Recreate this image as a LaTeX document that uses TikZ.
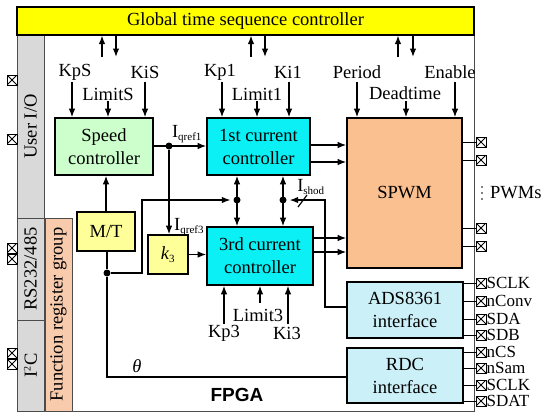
\documentclass[tikz,border=0pt]{standalone}
\usepackage{fontspec}
\setmainfont{Liberation Serif}
\newfontfamily\fpgafont{Liberation Sans}
\usetikzlibrary{arrows.meta}
\definecolor{gyellow}{RGB}{255,255,0}
\definecolor{colgray}{RGB}{217,217,217}
\definecolor{freg}{RGB}{248,203,173}
\definecolor{spgreen}{RGB}{204,255,204}
\definecolor{curcyan}{RGB}{10,240,245}
\definecolor{spwmor}{RGB}{250,192,143}
\definecolor{ifcyan}{RGB}{204,240,248}
\definecolor{lyellow}{RGB}{255,255,153}
\newcommand\myfs{\fontsize{18.5}{23}\selectfont}
\newcommand\pinfs{\fontsize{17}{17}\selectfont}
\newcommand\mysub[1]{\textsubscript{\fontsize{11}{11}\selectfont #1}}
\begin{document}
\begin{tikzpicture}[x=1pt,y=-1pt,
  every node/.style={font=\myfs},
  box/.style={draw, line width=1.6pt, align=center, inner sep=0pt},
  lab/.style={inner sep=0pt},
  pin/.style={inner sep=0pt, anchor=west, font=\pinfs},
  arr/.style={line width=1.2pt, -{Latex[length=8.5pt,width=6.5pt]}},
  darr/.style={line width=1.2pt, {Latex[length=8.5pt,width=6.5pt]}-{Latex[length=8.5pt,width=6.5pt]}},
  ln/.style={line width=1.2pt},
  thin/.style={line width=0.7pt},
  dot/.style={circle, fill=black, inner sep=0pt, minimum size=7pt},
  xb/.style={draw, line width=0.9pt, fill=white, minimum size=10pt, inner sep=0pt,
    path picture={\draw[line width=0.8pt] (path picture bounding box.north west) -- (path picture bounding box.south east)
      (path picture bounding box.north east) -- (path picture bounding box.south west);}}
]
\useasboundingbox (0,0) rectangle (548,413);
% frame
\node[draw=black!70, line width=0.8pt, minimum width=457pt, minimum height=404pt, inner sep=0pt] (frame) at (245.5,209) {};
% left columns
\node[draw=black!70, fill=colgray, line width=0.8pt, minimum width=27pt, minimum height=183pt, inner sep=0pt] (uio) at (30.5,126.5) {};
\node[draw=black!70, fill=colgray, line width=0.8pt, minimum width=27pt, minimum height=102pt, inner sep=0pt] (rs) at (30.5,269) {};
\node[draw=black!70, fill=colgray, line width=0.8pt, minimum width=27pt, minimum height=91pt, inner sep=0pt] (iic) at (30.5,365.5) {};
\node[rotate=90, lab] (uiot) at (uio.center) {User I/O};
\node[rotate=90, lab] (rst) at (rs.center) {RS232/485};
\node[rotate=90, lab] (iict) at (iic.center) {I\textsuperscript{\fontsize{10}{10}\selectfont 2}C};
\node[draw=black!70, fill=freg, line width=0.8pt, minimum width=27pt, minimum height=193pt, inner sep=0pt] (fr) at (58.5,314.5) {};
\node[rotate=90, lab] (frt) at (fr.center) {Function register group};
% global controller
\node[draw, fill=gyellow, line width=1.2pt, minimum width=457pt, minimum height=28pt, inner sep=0pt] (gtsc) at (245.5,21) {Global time sequence controller};
% boxes
\node[box, fill=spgreen, minimum width=98pt, minimum height=57pt] (speed) at (104,146.5) {Speed\\controller};
\node[box, fill=curcyan, minimum width=103pt, minimum height=57pt] (cur1) at (258.5,146.5) {1st current\\controller};
\node[box, fill=spwmor, minimum width=115pt, minimum height=150pt] (spwm) at (404.5,193) {SPWM};
\node[box, fill=lyellow, minimum width=58pt, minimum height=39pt] (mt) at (106,231.5) {M/T};
\node[box, fill=lyellow, minimum width=40pt, minimum height=39pt] (k3) at (168,254.5) {\textit{k}\mysub{3}};
\node[box, fill=curcyan, minimum width=106pt, minimum height=58pt] (cur3) at (260,256) {3rd current\\controller};
\node[box, fill=ifcyan, minimum width=116pt, minimum height=56pt] (ads) at (405,310) {ADS8361\\interface};
\node[box, fill=ifcyan, minimum width=116pt, minimum height=55pt] (rdc) at (405,375.5) {RDC\\interface};
% top arrow pairs
\foreach \u/\d [count=\i] in {102/116, 251/265, 398/413}{
  \coordinate (up\i) at (\u,57);
  \coordinate (dn\i) at (\d,57);
  \draw[arr] (up\i) -- (up\i |- gtsc.south);
  \draw[arr] (dn\i |- gtsc.south) -- (dn\i);
}
% parameter labels (top)
\node[lab] (kps) at (75,72) {KpS};
\node[lab] (lims) at (108,94) {LimitS};
\node[lab] (kis) at (145,72) {KiS};
\node[lab] (kp1) at (220,72) {Kp1};
\node[lab] (lim1) at (257,94) {Limit1};
\node[lab] (ki1) at (288,72) {Ki1};
\node[lab] (per) at (357,72) {Period};
\node[lab] (dead) at (405,93) {Deadtime};
\node[lab] (ena) at (450,72) {Enable};
\foreach \n/\x/\y in {kps/72/82, lims/108/101, kis/145/82, kp1/222/82, lim1/257/101, ki1/289/82}{
  \coordinate (a\n) at (\x,\y);
}
\coordinate (aper) at (357,82);
\coordinate (adead) at (406,101);
\coordinate (aena) at (455,82);
\foreach \n in {kps,lims,kis}{\draw[arr] (a\n) -- (a\n |- speed.north);}
\foreach \n in {kp1,lim1,ki1}{\draw[arr] (a\n) -- (a\n |- cur1.north);}
\foreach \n in {per,dead,ena}{\draw[arr] (a\n) -- (a\n |- spwm.north);}
% bottom parameter labels
\node[lab] (kp3) at (224,333) {Kp3};
\node[lab] (lim3) at (258,315) {Limit3};
\node[lab] (ki3) at (287,333) {Ki3};
\coordinate (akp3) at (224,324);
\coordinate (alim3) at (260,303);
\coordinate (aki3) at (288,324);
\foreach \n in {kp3,lim3,ki3}{\draw[arr] (a\n) -- (a\n |- cur3.south);}
% speed -> cur1 with Iqref1 junction
\node[dot] (jq) at (169,146) {};
\draw[arr] (speed.east |- jq) -- (cur1.west |- jq);
\node[lab] (iq1) at (187,134) {I\mysub{qref1}};
\draw[arr] (jq) -- (jq |- k3.north);
\node[lab, anchor=west] (iq3) at (174,227) {I\mysub{qref3}};
\draw[arr] (k3.east) -- (cur3.west |- k3.east);
% M/T
\draw[arr] (mt.north) -- (mt.north |- speed.south);
\node[dot] (jmt) at (107,273) {};
\coordinate (th) at (107,377);
\draw[ln] (mt.south -| jmt) -- (jmt) -- (th) -- (th -| rdc.west);
\node[lab] (theta) at (137,366) {\textit{θ}};
% junctions between cur1 and cur3
\node[dot] (j1) at (237,200) {};
\node[dot] (j2) at (283,200) {};
\draw[darr] (j1 |- cur1.south) -- (j1 |- cur3.north);
\draw[darr] (j2 |- cur1.south) -- (j2 |- cur3.north);
\coordinate (b1) at (142,273);
\coordinate (b2) at (142,200);
\draw[arr, shorten >=3pt] (jmt) -- (b1) -- (b2) -- (j1);
\coordinate (c1) at (325,307);
\coordinate (c2) at (325,200);
\draw[arr, shorten >=3pt] (ads.west |- c1) -- (c1) -- (c2) -- (j2);
\coordinate (s1) at (298,207);
\coordinate (s2) at (307,195);
\draw[ln] (s1) -- (s2);
\node[lab] (ishod) at (311,187) {I\mysub{shod}};
% controllers -> SPWM
\foreach \y in {145,162}{\draw[arr] (cur1.east |- 0,\y) -- (spwm.west |- 0,\y);}
\foreach \y in {238,252}{\draw[arr] (cur3.east |- 0,\y) -- (spwm.west |- 0,\y);}
% right cross boxes (PWM)
\foreach \y [count=\i] in {142,160,228,246}{
  \node[xb] (pw\i) at (481,\y) {};
  \draw[thin] (spwm.east |- pw\i) -- (pw\i.west);
}
\foreach \y [count=\i] in {187,193,199}{\fill (482,\y) circle (0.9pt);}
\node[lab, anchor=west] (pwms) at (490,193) {PWMs};
% ADS pins
\foreach \y/\t [count=\i] in {283/SCLK,301/nConv,319/SDA,335/SDB}{
  \node[xb] (ap\i) at (481,\y) {};
  \draw[thin] (ads.east |- ap\i) -- (ap\i.west);
  \node[pin] (apt\i) at (486.5,\y) {\t};
}
\foreach \y/\t [count=\i] in {352/nCS,368/nSam,385/SCLK,401/SDAT}{
  \node[xb] (rp\i) at (481,\y) {};
  \draw[thin] (rdc.east |- rp\i) -- (rp\i.west);
  \node[pin] (rpt\i) at (486.5,\y) {\t};
}
% left cross boxes
\foreach \y [count=\i] in {80,139,248,259,353,364}{
  \node[xb] (lp\i) at (12,\y) {};
}
\node[lab] (fpga) at (237,395) {\fpgafont\bfseries\fontsize{19}{19}\selectfont FPGA};
\end{tikzpicture}
\end{document}
